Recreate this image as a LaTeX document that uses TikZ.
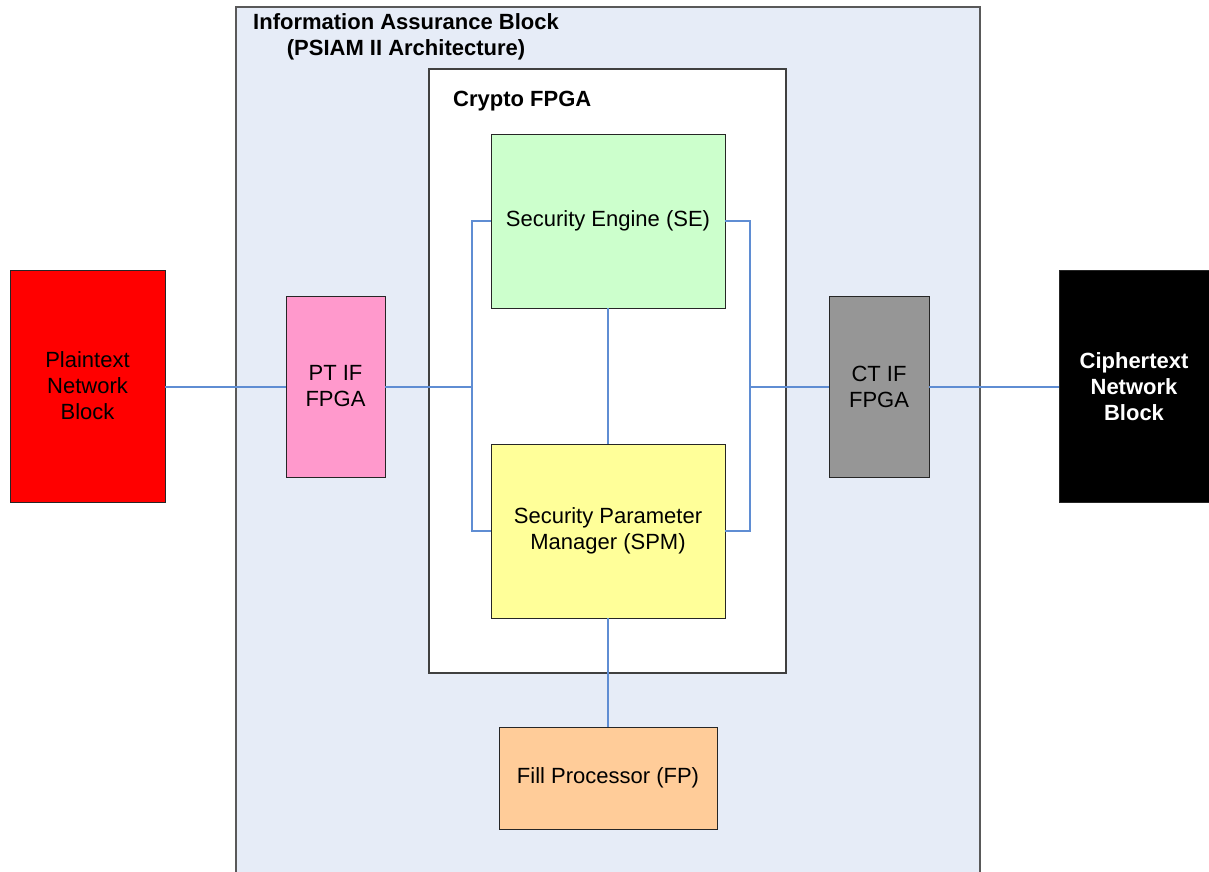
\documentclass[tikz,border=0pt]{standalone}
\usepackage{fontspec}
\setmainfont{Liberation Sans}
\usepackage{xcolor}
\usepackage{tikz}
\usetikzlibrary{arrows.meta,positioning,calc}

\definecolor{iablue}{HTML}{E6ECF7}
\definecolor{linkblue}{HTML}{5F8DD3}
\definecolor{ptpink}{HTML}{FF99CC}
\definecolor{segreen}{HTML}{CCFFCC}
\definecolor{spmyellow}{HTML}{FFFF99}
\definecolor{fporange}{HTML}{FFCC99}
\definecolor{ctgray}{HTML}{969696}

\begin{document}
\begin{tikzpicture}[x=1pt,y=-1pt,
    every node/.style={font=\fontsize{22}{26}\selectfont, align=center, inner sep=0pt},
    blockbox/.style={draw=black!85, line width=0.9pt},
    link/.style={draw=linkblue, line width=1.3pt}]
    \useasboundingbox (0,0) rectangle (1209,871);

    % Information assurance block
    \draw[fill=iablue, draw=black!65, line width=1.1pt] (236,7) rectangle (980,900);
    \node[anchor=north west, font=\fontsize{22}{26}\selectfont\bfseries] (iatitle) at (253,13)
        {Information Assurance Block\\(PSIAM II Architecture)};

    % Crypto FPGA
    \draw[fill=white, draw=black!75, line width=1.1pt] (429,69) rectangle (786,673);
    \node[anchor=west, font=\fontsize{22}{26}\selectfont\bfseries] (cryptotitle) at (453,101) {Crypto FPGA};

    % Blocks
    \node[blockbox, fill=red, minimum width=155pt, minimum height=232pt] (plain) at (87.5,386) {Plaintext\\Network\\Block};
    \node[blockbox, fill=black, text=white, font=\fontsize{22}{26}\selectfont\bfseries,
        minimum width=150pt, minimum height=232pt] (cipher) at (1134,386.5) {Ciphertext\\Network\\Block};
    \node[blockbox, fill=ptpink, minimum width=99pt, minimum height=181pt] (ptif) at (335.5,386.5) {PT IF\\FPGA};
    \node[blockbox, fill=ctgray, minimum width=100pt, minimum height=181pt] (ctif) at (879,386.5) {CT IF\\FPGA};
    \node[blockbox, fill=segreen, minimum width=234pt, minimum height=174pt] (se) at (608,221) {Security Engine (SE)};
    \node[blockbox, fill=spmyellow, minimum width=234pt, minimum height=174pt] (spm) at (608,531) {Security Parameter\\Manager (SPM)};
    \node[blockbox, fill=fporange, minimum width=218pt, minimum height=102pt] (fp) at (608,778) {Fill Processor (FP)};

    % Bus points
    \coordinate (busl) at (472,387);
    \coordinate (busr) at (750,387);

    % Links
    \draw[link] (plain.east |- busl) -- (ptif.west |- busl);
    \draw[link] (ptif.east |- busl) -- (busl);
    \draw[link] (se.west) -| (busl) |- (spm.west);
    \draw[link] (se.east) -| (busr) |- (spm.east);
    \draw[link] (busr) -- (ctif.west |- busr);
    \draw[link] (ctif.east |- busr) -- (cipher.west |- busr);
    \draw[link] (se.south) -- (spm.north);
    \draw[link] (spm.south) -- (fp.north);
\end{tikzpicture}
\end{document}
